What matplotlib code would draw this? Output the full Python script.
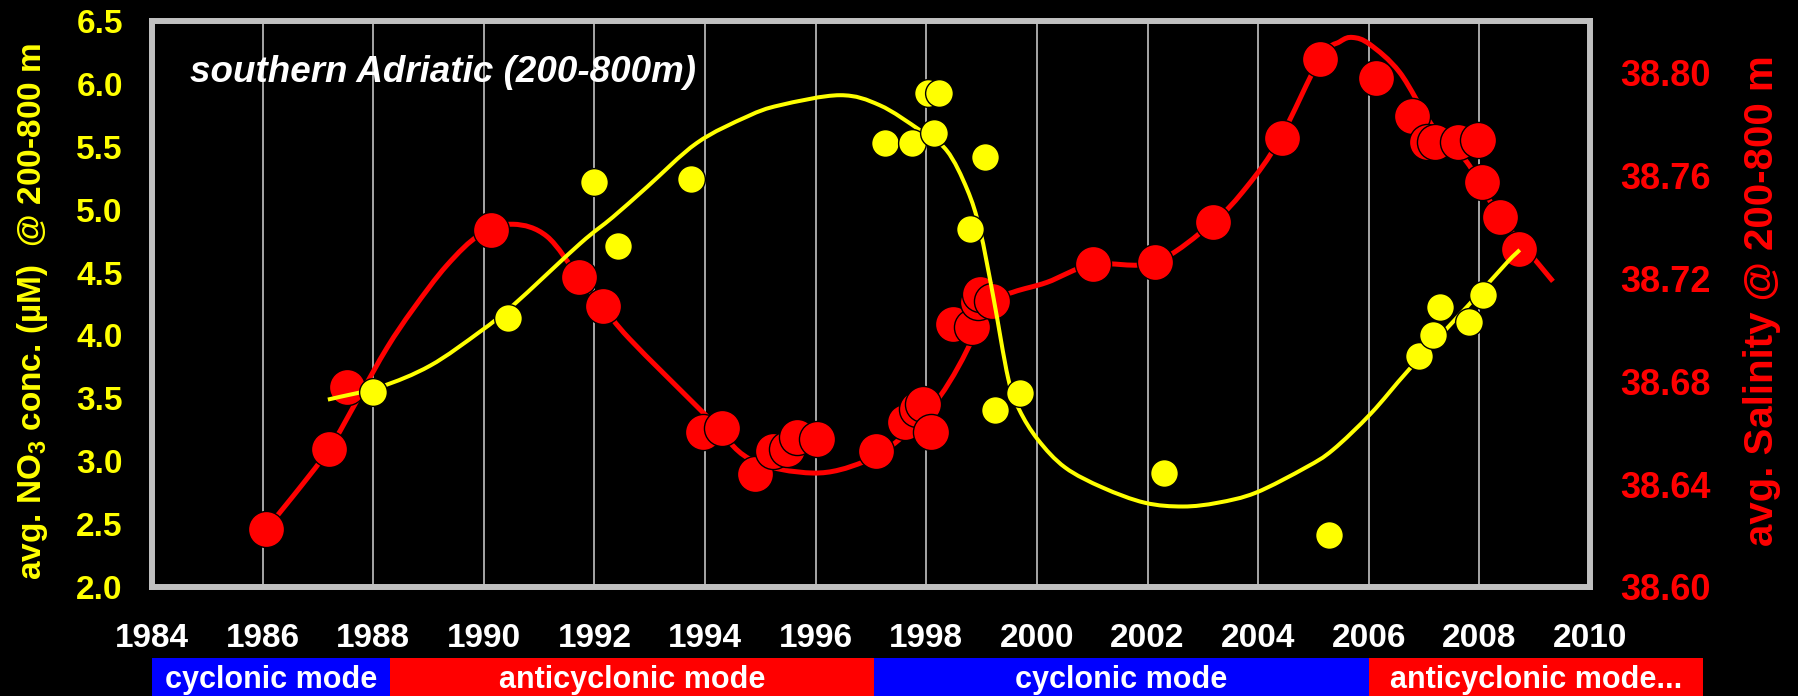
import numpy as np
import matplotlib.pyplot as plt
from matplotlib.path import Path
from matplotlib.patches import PathPatch, Rectangle
from matplotlib.transforms import blended_transform_factory

plt.rcParams['font.family'] = 'Liberation Sans'
plt.rcParams['font.weight'] = 'bold'
plt.rcParams['mathtext.fontset'] = 'custom'
plt.rcParams['mathtext.rm'] = 'Liberation Sans:bold'
plt.rcParams['mathtext.default'] = 'rm'

# NO3 samples (left axis, uM)
no3_year = [1988.00, 1990.44, 1991.99, 1992.43, 1993.75, 1997.25, 1997.74, 1998.03,
            1998.23, 1998.14, 1998.79, 1999.06, 1999.24, 1999.69, 2002.30, 2005.28,
            2006.91, 2007.16, 2007.29, 2007.81, 2008.06]
no3_val = [3.55, 4.14, 5.22, 4.71, 5.24, 5.53, 5.53, 5.93,
           5.93, 5.61, 4.85, 5.42, 3.41, 3.54, 2.91, 2.41,
           3.84, 4.00, 4.23, 4.11, 4.32]

# NO3 trend line
no3_trend_year = [1987.18, 1988.12, 1989.03, 1989.93, 1990.53, 1991.74, 1992.33, 1992.95,
                  1993.85, 1994.76, 1995.35, 1996.44, 1997.16, 1997.89, 1998.37, 1998.74,
                  1998.97, 1999.21, 1999.48, 1999.68, 2000.02, 2000.51, 2001.19, 2001.95,
                  2002.64, 2003.27, 2003.96, 2004.86, 2005.35, 2006.04, 2006.73, 2007.78,
                  2008.50, 2008.73]
no3_trend_val = [3.49, 3.59, 3.76, 4.03, 4.24, 4.73, 4.94, 5.18,
                 5.53, 5.74, 5.83, 5.91, 5.83, 5.63, 5.47, 5.16,
                 4.84, 4.31, 3.66, 3.41, 3.17, 2.95, 2.79, 2.67,
                 2.64, 2.67, 2.75, 2.95, 3.09, 3.38, 3.73, 4.23,
                 4.58, 4.68]

# salinity samples (right axis)
sal_year = [1986.06, 1987.20, 1987.53, 1990.13, 1991.72, 1992.15, 1993.96, 1994.31,
            1994.90, 1995.23, 1995.48, 1995.66, 1996.02, 1997.09, 1997.61, 1997.83,
            1997.94, 1998.08, 1998.48, 1998.83, 1998.93, 1998.97, 1999.19, 2001.01,
            2002.13, 2003.18, 2004.43, 2005.12, 2006.13, 2006.78, 2007.05, 2007.20,
            2007.61, 2007.97, 2008.05, 2008.37, 2008.72]
sal_val = [38.6225, 38.6536, 38.6777, 38.7386, 38.7204, 38.7091, 38.6602, 38.6617,
           38.6439, 38.6528, 38.6536, 38.6583, 38.6575, 38.6528, 38.6641, 38.6691,
           38.6711, 38.6602, 38.7021, 38.7010, 38.7107, 38.7138, 38.7111, 38.7254,
           38.7262, 38.7417, 38.7744, 38.8054, 38.7977, 38.7829, 38.7728, 38.7728,
           38.7728, 38.7736, 38.7573, 38.7437, 38.7313]

# salinity smoothed line
sal_trend_year = [1986.06, 1986.55, 1987.20, 1987.72, 1988.25, 1988.72, 1989.33, 1989.93,
                  1990.53, 1991.14, 1991.72, 1992.15, 1992.64, 1994.03, 1994.81, 1995.95,
                  1996.85, 1997.52, 1998.25, 1998.83, 1998.97, 1999.57, 2000.18, 2001.01,
                  2002.13, 2003.18, 2003.80, 2004.39, 2005.12, 2005.48, 2005.71, 2006.02,
                  2006.56, 2007.16, 2007.78, 2008.37, 2009.33]
sal_trend_val = [38.6225, 38.6353, 38.6536, 38.6730, 38.6930, 38.7080, 38.7250, 38.7370,
                 38.7410, 38.7363, 38.7204, 38.7091, 38.6963, 38.6664, 38.6497, 38.6443,
                 38.6485, 38.6575, 38.6742, 38.6963, 38.7091, 38.7146, 38.7184, 38.7254,
                 38.7262, 38.7417, 38.7557, 38.7740, 38.8054, 38.8120, 38.8136, 38.8109,
                 38.8000, 38.7790, 38.7650, 38.7441, 38.7188]

year_ticks = list(range(1984, 2011, 2))
no3_ticks = [2.0, 2.5, 3.0, 3.5, 4.0, 4.5, 5.0, 5.5, 6.0, 6.5]
sal_ticks = [38.60, 38.64, 38.68, 38.72, 38.76, 38.80]

# circulation modes shown in the strip under the axis
mode_bounds = [1984.0, 1988.3, 1997.05, 2006.0, 2012.05]
mode_names = ['cyclonic mode', 'anticyclonic mode', 'cyclonic mode', 'anticyclonic mode...']
mode_colors = ['#0000FF', '#FF0000', '#0000FF', '#FF0000']


def smooth_path(xs, ys):
    # Catmull-Rom through the points, as cubic bezier segments
    p = np.column_stack([xs, ys]).astype(float)
    n = len(p)
    t = np.zeros_like(p)
    t[1:-1] = (p[2:] - p[:-2]) / 2.0
    t[0] = p[1] - p[0]
    t[-1] = p[-1] - p[-2]
    verts = [p[0]]
    codes = [Path.MOVETO]
    for i in range(n - 1):
        verts += [p[i] + t[i] / 3.0, p[i + 1] - t[i + 1] / 3.0, p[i + 1]]
        codes += [Path.CURVE4] * 3
    return Path(verts, codes)


fig = plt.figure(figsize=(17.99, 6.96), dpi=100, facecolor='black')
ax = fig.add_axes([152 / 1799, 1 - 587 / 696, 1438 / 1799, 566 / 696])
ax2 = ax.twinx()
# yellow series on top of the red one
ax.set_zorder(ax2.get_zorder() + 1)
ax.patch.set_visible(False)
ax2.patch.set_visible(True)
ax2.patch.set_facecolor('black')

for yr in year_ticks:
    ax2.axvline(yr, color='#B4B4B4', lw=1.3, zorder=0)

# salinity
ax2.add_patch(PathPatch(smooth_path(sal_trend_year, sal_trend_val), fill=False,
                        edgecolor='#FF0000', lw=3.6, zorder=2))
ax2.plot(sal_year, sal_val, 'o', ms=26, mfc='#FF0000', mec='black', mew=1.0, zorder=3)

# nitrate
ax.add_patch(PathPatch(smooth_path(no3_trend_year, no3_trend_val), fill=False,
                       edgecolor='#FFFF00', lw=2.9, zorder=2))
ax.plot(no3_year, no3_val, 'o', ms=20, mfc='#FFFF00', mec='black', mew=1.0, zorder=3)

ax.set_xlim(1984, 2010)
ax.set_ylim(2.0, 6.5)
ax2.set_ylim(38.60, 38.82)

ax.set_xticks(year_ticks)
ax.set_xticklabels([str(y) for y in year_ticks])
ax.set_yticks(no3_ticks)
ax.set_yticklabels(['%.1f' % v for v in no3_ticks])
ax2.set_yticks(sal_ticks)
ax2.set_yticklabels(['%.2f' % v for v in sal_ticks])

ax.tick_params(axis='x', length=0, pad=26, labelsize=24, labelcolor='white')
ax.tick_params(axis='y', length=0, pad=21, labelsize=24, labelcolor='#FFFF00')
ax2.tick_params(axis='y', length=0, pad=22, labelsize=26, labelcolor='#FF0000')

for s in ax.spines.values():
    s.set_color('#C0C0C0')
    s.set_linewidth(4.3)
for s in ax2.spines.values():
    s.set_visible(False)

fig.text(190 / 1799, 1 - 72 / 696, 'southern Adriatic (200-800m)', color='white',
         style='italic', fontsize=26.5, va='center', ha='left')
fig.text(33 / 1799, 1 - 311 / 696, r'avg. NO$_3$ conc. (µM)  @ 200-800 m', color='#FFFF00',
         fontsize=24, rotation=90, ha='center', va='center')
fig.text(1762 / 1799, 1 - 301 / 696, 'avg. Salinity @ 200-800 m', color='#FF0000',
         fontsize=29, rotation=90, ha='center', va='center')

# mode strip along the bottom
strip = blended_transform_factory(ax.transData, fig.transFigure)
strip_h = 38 / 696
for i in range(len(mode_names)):
    x0, x1 = mode_bounds[i], mode_bounds[i + 1]
    fig.patches.append(Rectangle((x0, 0), x1 - x0, strip_h, transform=strip,
                                 facecolor=mode_colors[i], edgecolor='none'))
    fig.text((x0 + x1) / 2, 16 / 696, mode_names[i], transform=strip, color='white',
             fontsize=22, ha='center', va='center')

fig.savefig('out.png', dpi=100, facecolor='black')
